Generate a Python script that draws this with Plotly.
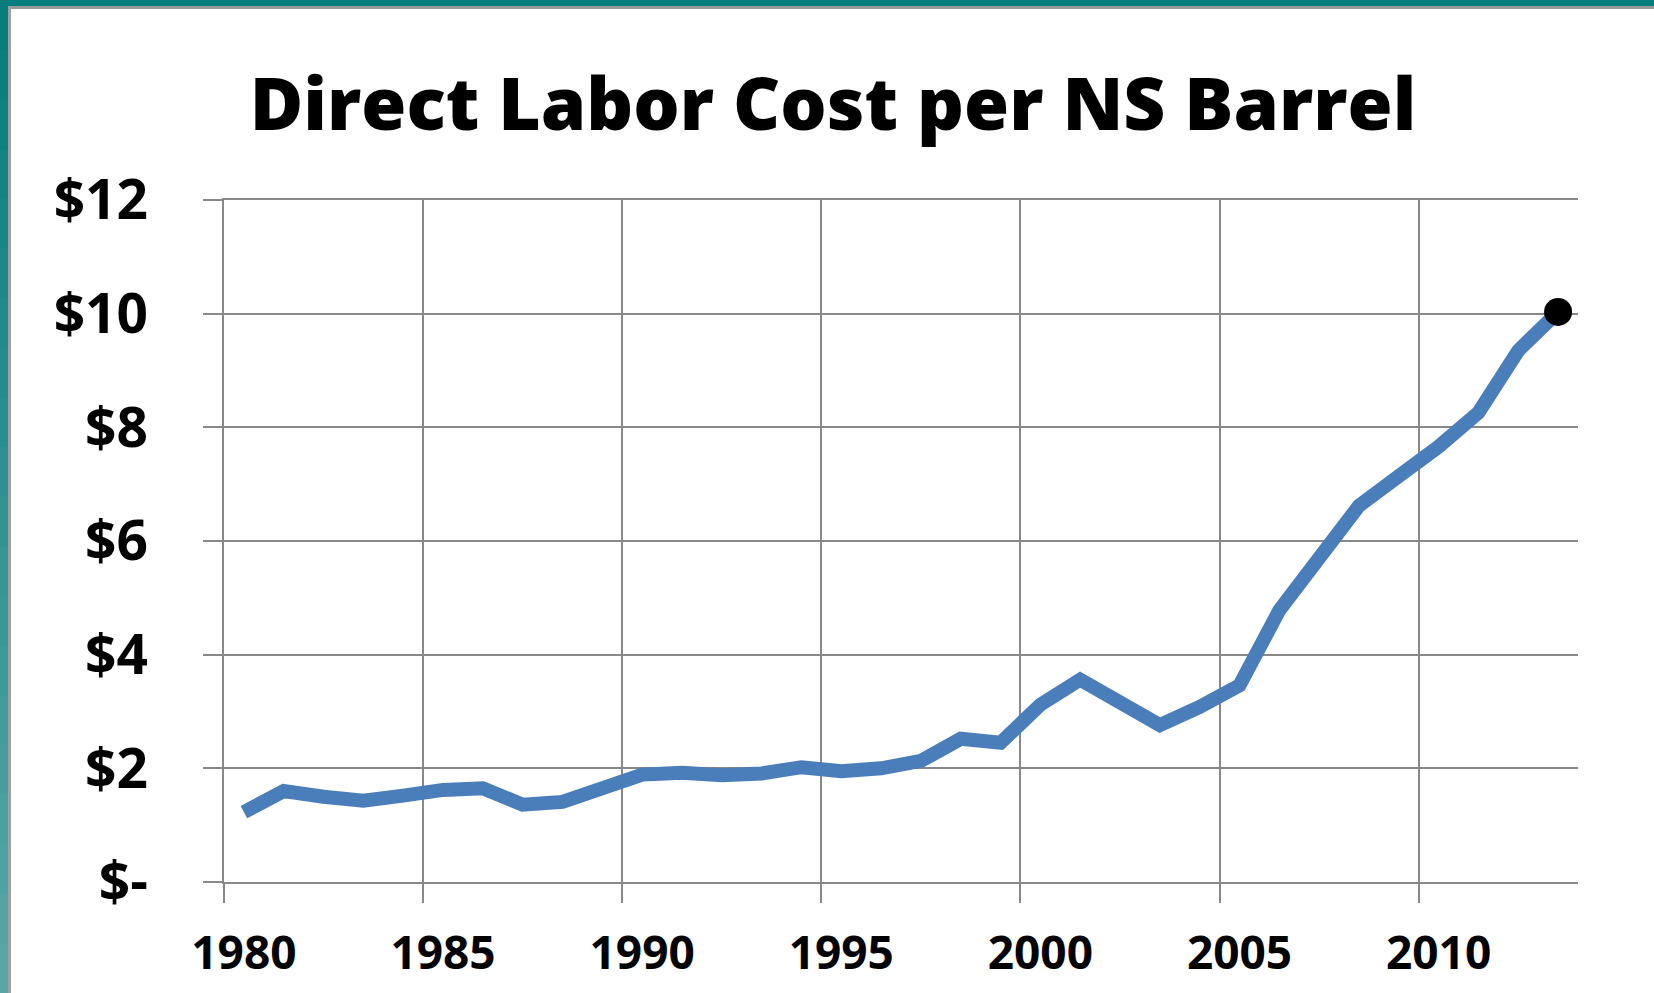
import plotly.graph_objects as go

# ---- data ----
years = [str(y) for y in range(1980, 2014)]
cost = [1.23, 1.60, 1.50, 1.43, 1.52, 1.62, 1.65, 1.36, 1.41, 1.67,
        1.89, 1.92, 1.88, 1.91, 2.02, 1.95, 2.00, 2.13, 2.52, 2.45,
        3.12, 3.56, 3.15, 2.76, 3.08, 3.46, 4.78, 5.70, 6.62, 7.14,
        7.66, 8.26, 9.35, 10.03]
y_tickvals = [0, 2, 4, 6, 8, 10, 12]
y_ticktext = ["$-", "$2", "$4", "$6", "$8", "$10", "$12"]
title_text = "Direct Labor Cost per NS Barrel"

W, H = 1654, 993
L, R, T, B = 224, 76, 200, 111
PW, PH = W - L - R, H - T - B

FONT = "Open Sans"
GRID = "#888888"

fig = go.Figure()
fig.add_trace(go.Scatter(
    x=years, y=cost, mode="lines",
    line=dict(color="#4A7EBB", width=14),
    hoverinfo="x+y", showlegend=False))
fig.add_trace(go.Scatter(
    x=[years[-1]], y=[cost[-1]], mode="markers",
    marker=dict(color="black", size=28),
    showlegend=False))

def px_to_paper_x(px):
    return (px - L) / PW

def px_to_paper_y(py):
    return (H - B - py) / PH

shapes = []
# top teal band and gray rule
shapes.append(dict(type="rect", xref="paper", yref="paper", layer="above",
                   x0=px_to_paper_x(0), x1=px_to_paper_x(W + 2),
                   y0=px_to_paper_y(6), y1=px_to_paper_y(-2),
                   fillcolor="#077d7e", line=dict(width=0)))
shapes.append(dict(type="rect", xref="paper", yref="paper", layer="above",
                   x0=px_to_paper_x(8), x1=px_to_paper_x(W + 2),
                   y0=px_to_paper_y(9), y1=px_to_paper_y(6),
                   fillcolor="#9a9a9a", line=dict(width=0)))
# left teal band (gradient in steps) and gray rule
c0 = (7, 125, 126)
c1 = (88, 166, 166)
n = 20
for i in range(n):
    t = i / (n - 1)
    col = tuple(int(round(c0[k] + (c1[k] - c0[k]) * t)) for k in range(3))
    ya = i * H / n
    yb = (i + 1) * H / n + 1
    shapes.append(dict(type="rect", xref="paper", yref="paper", layer="above",
                       x0=px_to_paper_x(-2), x1=px_to_paper_x(8),
                       y0=px_to_paper_y(yb), y1=px_to_paper_y(ya),
                       fillcolor="rgb(%d,%d,%d)" % col, line=dict(width=0)))
shapes.append(dict(type="rect", xref="paper", yref="paper", layer="above",
                   x0=px_to_paper_x(8), x1=px_to_paper_x(11),
                   y0=px_to_paper_y(H + 2), y1=px_to_paper_y(6),
                   fillcolor="#a0a0a0", line=dict(width=0)))

fig.update_layout(
    width=W, height=H,
    margin=dict(l=L, r=R, t=T, b=B, pad=0, autoexpand=False),
    paper_bgcolor="white", plot_bgcolor="white",
    title=dict(text=title_text,
               font=dict(family=FONT, size=73, color="black", weight=800),
               x=833 / W, xanchor="center", xref="container",
               y=1 - 104 / H, yanchor="middle", yref="container"),
    xaxis=dict(type="category", range=[-0.5, len(years) - 0.5],
               tickmode="linear", tick0=0, dtick=5, tickson="boundaries",
               tickangle=0, automargin=False,
               showgrid=True, gridcolor=GRID, gridwidth=2,
               ticks="outside", ticklen=19, tickwidth=2, tickcolor=GRID,
               showline=True, mirror=True, linecolor=GRID, linewidth=2,
               zeroline=False,
               tickfont=dict(family=FONT, size=46, color="black", weight="bold"),
               ticklabelstandoff=30),
    yaxis=dict(range=[0, 12], tickvals=y_tickvals, ticktext=y_ticktext,
               automargin=False,
               showgrid=True, gridcolor=GRID, gridwidth=2,
               ticks="outside", ticklen=19, tickwidth=2, tickcolor=GRID,
               zeroline=False,
               showline=True, mirror=False, linecolor=GRID, linewidth=2,
               tickfont=dict(family=FONT, size=55, color="black", weight="bold"),
               ticklabelstandoff=44),
    shapes=shapes,
)

fig.write_html("out.html",
               config={"displayModeBar": False},
               post_script="document.body.style.margin='0';"
                           "document.body.style.overflow='hidden';")
